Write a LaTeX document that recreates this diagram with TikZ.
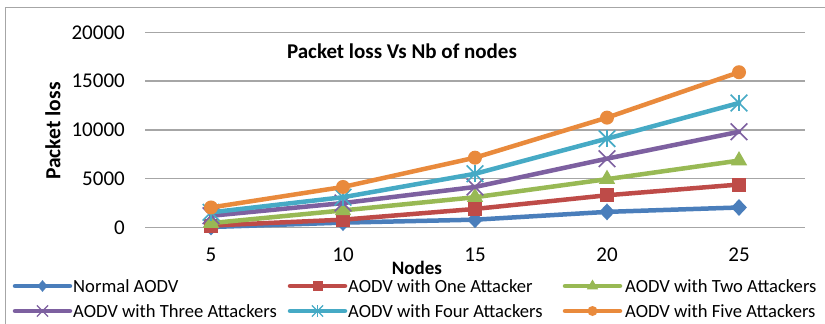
\documentclass[tikz,border=0pt]{standalone}
\usepackage{fontspec}
\setmainfont{Carlito}
\usetikzlibrary{shapes.geometric,shapes.misc,calc}

\definecolor{cblue}{HTML}{4A7EBB}
\definecolor{cred}{HTML}{BE4B48}
\definecolor{cgreen}{HTML}{98B954}
\definecolor{cpurple}{HTML}{7D60A0}
\definecolor{cteal}{HTML}{46AAC5}
\definecolor{corange}{HTML}{E98A3C}
\definecolor{cgrid}{HTML}{A6A6A6}

\tikzset{
  serline/.style={line width=4.5pt, line join=round, line cap=round},
  mkdiamond/.style={diamond, fill=cblue, inner sep=0pt, minimum width=16pt, minimum height=17pt},
  mksquare/.style={rectangle, fill=cred, inner sep=0pt, minimum size=14pt},
  mktri/.style={regular polygon, regular polygon sides=3, fill=cgreen, inner sep=0pt, minimum size=19pt},
  mkx/.style={cross out, draw=cpurple, line width=1.6pt, inner sep=0pt, minimum size=15pt},
  mkstar/.style={cross out, draw=cteal, line width=1.6pt, inner sep=0pt, minimum size=15pt},
  mkdot/.style={circle, fill=corange, inner sep=0pt, minimum size=14pt},
  ticklab/.style={font=\fontsize{21}{21}\selectfont, inner sep=0pt},
  legtext/.style={font=\fontsize{18.6}{18.6}\selectfont, anchor=west, inner sep=0pt},
  legline/.style={line width=4.5pt, line cap=round},
}

% one data series: prefix, colour, values at 5,10,15,20,25 nodes
\newcommand\plotseries[3]{%
  \foreach \v [count=\i] in {#3} {
    \coordinate (#1\i) at ({211+132*(\i-1)}, {-227.5+\v*0.00976});
  }
  \draw[serline, #2] (#11) -- (#12) -- (#13) -- (#14) -- (#15);
}

\begin{document}
\begin{tikzpicture}[x=1pt, y=1pt]
\useasboundingbox (0,0) rectangle (825,-324);
\fill[white] (0,0) rectangle (825,-324);

% chart frame
\draw[cgrid, line width=1pt] (5,-324) -- (5,-7) -- (825,-7);

% horizontal gridlines and value labels
\foreach \k/\lab in {0/0, 1/5000, 2/10000, 3/15000, 4/20000} {
  \draw[cgrid, line width=1.4pt] (145,{-227.5+48.8*\k}) -- (805,{-227.5+48.8*\k});
  \node[ticklab, anchor=east] (yl\k) at (125,{-227.5+48.8*\k}) {\lab};
}

% category labels
\foreach \c [count=\i] in {5,10,15,20,25} {
  \node[ticklab] (xl\i) at ({211+132*(\i-1)}, -255) {\c};
}

% titles
\node[font=\bfseries\fontsize{21}{21}\selectfont, inner sep=0pt] (title) at (402,-51) {Packet loss Vs Nb of nodes};
\node[font=\bfseries\fontsize{21.5}{21.5}\selectfont, inner sep=0pt, rotate=90] (ytitle) at (53,-131) {Packet loss};
\node[font=\bfseries\fontsize{19}{19}\selectfont, inner sep=0pt] (xtitle) at (417,-268) {Nodes};

% series: Normal AODV
\plotseries{b}{cblue}{50,500,800,1600,2050}
\foreach \i in {1,...,5} \node[mkdiamond] (bm\i) at (b\i) {};
% series: one attacker
\plotseries{r}{cred}{200,800,1900,3300,4400}
\foreach \i in {1,...,5} \node[mksquare] (rm\i) at (r\i) {};
% series: two attackers
\plotseries{g}{cgreen}{450,1750,3100,4950,6850}
\foreach \i in {1,...,5} \node[mktri] (gm\i) at (g\i) {};
% series: three attackers
\plotseries{p}{cpurple}{1200,2500,4150,7050,9800}
\foreach \i in {1,...,5} \node[mkx] (pm\i) at (p\i) {};
% series: four attackers
\plotseries{t}{cteal}{1550,3100,5500,9100,12750}
\foreach \i in {1,...,5} {
  \node[mkstar] (tm\i) at (t\i) {};
  \draw[cteal, line width=1.6pt] (tm\i.north) -- (tm\i.south);
}
% series: five attackers
\plotseries{o}{corange}{2050,4150,7150,11250,15900}
\foreach \i in {1,...,5} \node[mkdot] (om\i) at (o\i) {};

% legend
\coordinate (la1) at (15,-286); \coordinate (lb1) at (70,-286);
\coordinate (la2) at (290,-286); \coordinate (lb2) at (345,-286);
\coordinate (la3) at (565,-286); \coordinate (lb3) at (620,-286);
\coordinate (la4) at (15,-311); \coordinate (lb4) at (70,-311);
\coordinate (la5) at (290,-311); \coordinate (lb5) at (345,-311);
\coordinate (la6) at (565,-311); \coordinate (lb6) at (620,-311);

\draw[legline, cblue] (la1) -- (lb1);
\node[mkdiamond, minimum width=10pt, minimum height=12pt] (lm1) at ($(la1)!0.5!(lb1)$) {};
\node[legtext] (lt1) at (73,-286) {Normal AODV};

\draw[legline, cred] (la2) -- (lb2);
\node[mksquare, minimum size=10pt] (lm2) at ($(la2)!0.5!(lb2)$) {};
\node[legtext] (lt2) at (348,-286) {AODV with One Attacker};

\draw[legline, cgreen] (la3) -- (lb3);
\node[mktri, minimum size=13pt] (lm3) at ($(la3)!0.5!(lb3)$) {};
\node[legtext] (lt3) at (625,-286) {AODV with Two Attackers};

\draw[legline, cpurple] (la4) -- (lb4);
\node[mkx, minimum size=10pt, line width=1.2pt] (lm4) at ($(la4)!0.5!(lb4)$) {};
\node[legtext] (lt4) at (73,-311) {AODV with Three Attackers};

\draw[legline, cteal] (la5) -- (lb5);
\node[mkstar, minimum size=10pt, line width=1.2pt] (lm5) at ($(la5)!0.5!(lb5)$) {};
\draw[cteal, line width=1.2pt] (lm5.north) -- (lm5.south);
\node[legtext] (lt5) at (348,-311) {AODV with Four Attackers};

\draw[legline, corange] (la6) -- (lb6);
\node[mkdot, minimum size=10pt] (lm6) at ($(la6)!0.5!(lb6)$) {};
\node[legtext] (lt6) at (625,-311) {AODV with Five Attackers};
\end{tikzpicture}
\end{document}
